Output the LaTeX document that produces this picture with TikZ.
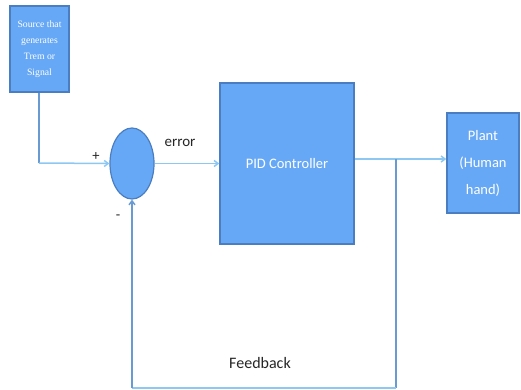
\documentclass[tikz,border=0pt]{standalone}
\usepackage{fontspec}
\setmainfont{Carlito}
\newfontfamily\srcfont{Liberation Serif}
\usetikzlibrary{arrows.meta,shapes.geometric}
\definecolor{boxfill}{HTML}{66A8F5}
\definecolor{boxedge}{HTML}{4A7EC0}
\definecolor{lightline}{HTML}{8EC8F2}
\definecolor{midline}{HTML}{6A9AD2}
\tikzset{
  blockbox/.style={draw=boxedge, line width=1.5pt, fill=boxfill, text=white, align=center, inner sep=0pt},
  lightwire/.style={draw=lightline, line width=1.5pt},
  midwire/.style={draw=midline, line width=1.5pt},
  tip/.style={-{Straight Barb[length=4pt,width=6pt]}},
  lbl/.style={text=black!85, font=\fontsize{14.5}{16}\selectfont, inner sep=0pt}
}
\begin{document}
\begin{tikzpicture}[x=1pt,y=-1pt]
\useasboundingbox (0,0) rectangle (521,390);
% blocks
\node[blockbox, minimum width=59pt, minimum height=86pt, font=\srcfont\fontsize{9.7}{16.2}\selectfont] (src) at (39.5,49) {Source that\\generates\\Trem or\\Signal};
\node[blockbox, ellipse, minimum width=44pt, minimum height=71pt, line width=1.2pt] (sum) at (132,163.5) {};
\node[blockbox, minimum width=134pt, minimum height=161pt, font=\fontsize{14.5}{16}\selectfont] (pid) at (287,163.5) {PID Controller};
\node[blockbox, minimum width=72pt, minimum height=100pt, font=\fontsize{14.5}{27}\selectfont] (plant) at (483,163) {Plant\\(Human\\hand)};
% coordinates
\coordinate (c1) at (39,163);
\coordinate (br) at (396,159);
\coordinate (bl) at (132,388);
\coordinate (brb) at (396,388);
% connectors
\draw[midwire] (src.south -| c1) -- (c1);
\draw[lightwire, tip] (c1) -- (sum.west);
\draw[lightwire, tip] (sum.east) -- (pid.west |- sum.east);
\draw[lightwire, tip] (pid.east |- br) -- (plant.west |- br);
\draw[midwire] (br) -- (brb);
\draw[lightwire, line width=2.2pt] (brb) -- (bl);
\draw[midwire, tip] (bl) -- (sum.south);
% labels
\node[lbl] (plus) at (96,157) {+};
\node[lbl] (minus) at (118,217) {-};
\node[lbl, font=\fontsize{15}{16}\selectfont] (err) at (180,143) {error};
\node[lbl, font=\fontsize{16}{18}\selectfont] (fb) at (260,363) {Feedback};
\end{tikzpicture}
\end{document}
